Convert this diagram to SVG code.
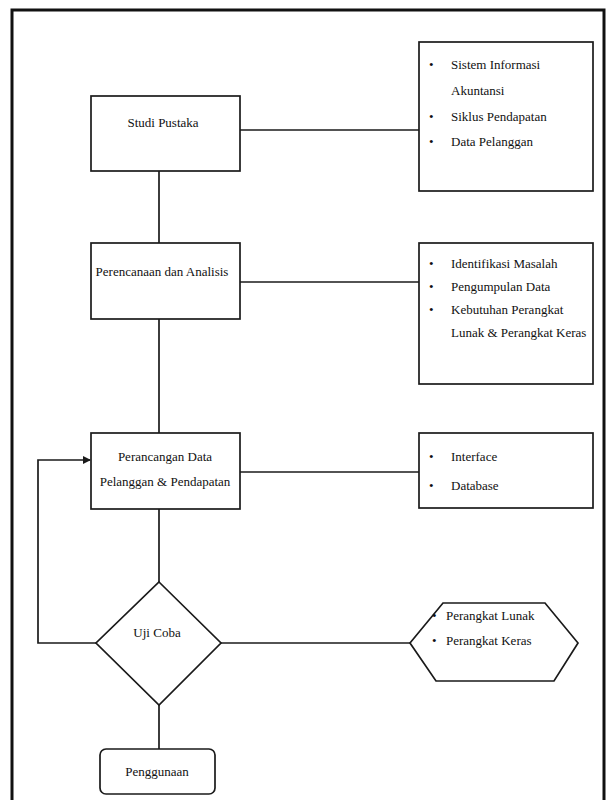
<svg xmlns="http://www.w3.org/2000/svg" width="608" height="800" viewBox="0 0 608 800">
<defs>
<style>
.box{fill:#fff;stroke:#1a1a1a;stroke-width:1.7}
.t{font-family:"Liberation Serif","Times New Roman",serif;font-size:13px;fill:#111}
.c{text-anchor:middle}
.ln{stroke:#1a1a1a;stroke-width:1.7;fill:none}
</style>
<marker id="arr" markerWidth="8" markerHeight="8" refX="7" refY="4" orient="auto" markerUnits="userSpaceOnUse">
<path d="M0,0 L8,4 L0,8 Z" fill="#1a1a1a"/>
</marker>
</defs>
<rect x="0" y="0" width="608" height="800" fill="#fff"/>
<rect x="12" y="10" width="592" height="800" fill="none" stroke="#111" stroke-width="3"/>
<g id="connectors">
<line class="ln" x1="240" y1="130" x2="419" y2="130"/>
<line class="ln" x1="159" y1="171" x2="159" y2="243"/>
<line class="ln" x1="240" y1="282" x2="419" y2="282"/>
<line class="ln" x1="159" y1="319" x2="159" y2="433"/>
<line class="ln" x1="240" y1="472" x2="419" y2="472"/>
<line class="ln" x1="159" y1="509" x2="159" y2="582"/>
<line class="ln" x1="221" y1="643" x2="410" y2="643"/>
<line class="ln" x1="159" y1="705" x2="159" y2="749"/>
<polyline class="ln" points="96,643 38,643 38,460 90,460" marker-end="url(#arr)"/>
</g>
<g id="studi-pustaka">
<rect class="box" x="91" y="96" width="149" height="75"/>
<text class="t c" x="163" y="127">Studi Pustaka</text>
</g>
<g id="list-studi">
<rect class="box" x="419" y="42" width="174" height="149"/>
<text class="t" x="429" y="69">•</text><text class="t" x="451" y="69">Sistem Informasi</text>
<text class="t" x="451" y="95">Akuntansi</text>
<text class="t" x="429" y="121">•</text><text class="t" x="451" y="121">Siklus Pendapatan</text>
<text class="t" x="429" y="146">•</text><text class="t" x="451" y="146">Data Pelanggan</text>
</g>
<g id="perencanaan">
<rect class="box" x="91" y="243" width="149" height="76"/>
<text class="t c" x="162" y="276">Perencanaan dan Analisis</text>
</g>
<g id="list-perencanaan">
<rect class="box" x="419" y="243" width="174" height="141"/>
<text class="t" x="429" y="268">•</text><text class="t" x="451" y="268">Identifikasi Masalah</text>
<text class="t" x="429" y="291">•</text><text class="t" x="451" y="291">Pengumpulan Data</text>
<text class="t" x="429" y="314">•</text><text class="t" x="451" y="314">Kebutuhan Perangkat</text>
<text class="t" x="451" y="337">Lunak &amp; Perangkat Keras</text>
</g>
<g id="perancangan">
<rect class="box" x="91" y="433" width="149" height="76"/>
<text class="t c" x="165" y="461">Perancangan Data</text>
<text class="t c" x="165" y="486">Pelanggan &amp; Pendapatan</text>
</g>
<g id="list-perancangan">
<rect class="box" x="419" y="433" width="174" height="75"/>
<text class="t" x="429" y="461">•</text><text class="t" x="451" y="461">Interface</text>
<text class="t" x="429" y="490">•</text><text class="t" x="451" y="490">Database</text>
</g>
<g id="uji-coba">
<polygon class="box" points="159,582 221,643 159,705 96,643"/>
<text class="t c" x="157" y="637">Uji Coba</text>
</g>
<g id="perangkat">
<polygon class="box" points="410,643 443,603 545,603 578,643 554,681 436,681"/>
<text class="t" x="432" y="620">•</text><text class="t" x="446" y="620">Perangkat Lunak</text>
<text class="t" x="432" y="645">•</text><text class="t" x="446" y="645">Perangkat Keras</text>
</g>
<g id="penggunaan">
<rect class="box" x="100" y="749" width="115" height="45" rx="6"/>
<text class="t c" x="157" y="776">Penggunaan</text>
</g>
</svg>
